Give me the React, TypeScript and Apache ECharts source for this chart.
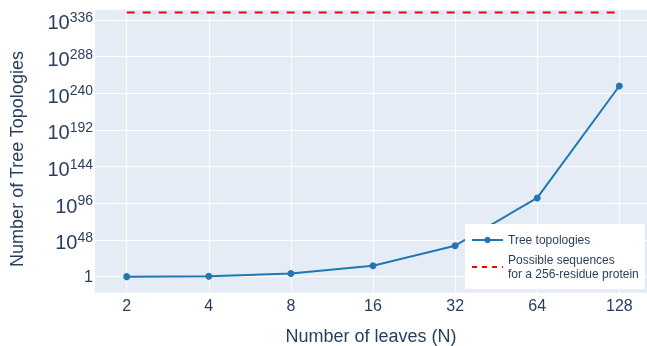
import React, { useEffect, useRef } from "react";
import * as echarts from "echarts";

// x: log2(N) positions, labels 2..128
const leafExp = [1, 2, 3, 4, 5, 6, 7];
const leafLabels = ["2", "4", "8", "16", "32", "64", "128"];
// y: log10(number of unrooted tree topologies)
const topologyLog10 = [0, 0.48, 4.02, 14.3, 40.5, 103, 249.5];
// log10 of possible sequences line
const sequencesLog10 = 345.6;
const yTicks = [0, 48, 96, 144, 192, 240, 288, 336];

const FONT = "'Liberation Sans', Arial, sans-serif";
const TXT = "#2a3f5f";
const SEQ_NAME = "Possible sequences\nfor a 256-residue protein";

export default function App() {
  const ref = useRef<HTMLDivElement>(null);
  useEffect(() => {
    const chart = echarts.init(ref.current!, null, { renderer: "svg" });
    chart.setOption({
      animation: false,
      textStyle: { fontFamily: FONT, color: TXT },
      grid: { left: 95, top: 10, right: 0, bottom: 53.3, show: true, backgroundColor: "#E5ECF6", borderWidth: 0 },
      xAxis: {
        type: "value",
        min: 0.614,
        max: 7.337,
        axisLine: { show: false },
        axisTick: { show: false, customValues: leafExp },
        splitLine: { show: true, lineStyle: { color: "#ffffff", width: 1 } },
        axisLabel: {
          customValues: leafExp,
          formatter: (v: number) => leafLabels[leafExp.indexOf(Math.round(v))] ?? "",
          fontSize: 16,
          color: TXT,
          fontFamily: FONT,
          margin: 5,
        },
      },
      yAxis: {
        type: "value",
        min: -21,
        max: 349,
        axisLine: { show: false },
        axisTick: { show: false, customValues: yTicks },
        splitLine: { show: true, lineStyle: { color: "#ffffff", width: 1 } },
        axisLabel: {
          customValues: yTicks,
          margin: 2,
          formatter: (v: number) => (v === 0 ? "{one|1}" : `{b|10}{s|${v}}`),
          rich: {
            one: { fontSize: 16, color: TXT, fontFamily: FONT, lineHeight: 20 },
            b: { fontSize: 20, color: TXT, fontFamily: FONT, lineHeight: 22, padding: [5, 0, 0, 0] },
            s: { fontSize: 14, color: TXT, fontFamily: FONT, lineHeight: 14, verticalAlign: "top", padding: [1, 0, 0, 0] },
          },
        },
      },
      legend: {
        left: 465,
        top: 224,
        orient: "vertical",
        backgroundColor: "#ffffff",
        padding: [9, 6, 8, 6],
        itemGap: 6,
        itemWidth: 31,
        itemHeight: 8,
        textStyle: { fontSize: 12, color: TXT, fontFamily: FONT, lineHeight: 14 },
        data: [
          { name: "Tree topologies" },
          { name: SEQ_NAME, itemStyle: { opacity: 0 }, lineStyle: { type: [5, 5], width: 2 } },
        ],
      },
      series: [
        {
          name: "Tree topologies",
          type: "line",
          data: leafExp.map((x, i) => [x, topologyLog10[i]]),
          symbol: "circle",
          symbolSize: 7,
          lineStyle: { color: "#1f77b4", width: 2 },
          itemStyle: { color: "#1f77b4" },
          z: 3,
        },
        {
          name: SEQ_NAME,
          type: "line",
          data: [
            [leafExp[0], sequencesLog10],
            [leafExp[leafExp.length - 1], sequencesLog10],
          ],
          symbol: "none",
          lineStyle: { color: "#ff0000", width: 2, type: [8, 8] },
          itemStyle: { color: "#ff0000" },
          z: 3,
        },
      ],
      graphic: [
        {
          type: "text",
          x: 371,
          y: 336,
          style: { text: "Number of leaves (N)", fontSize: 18, fill: TXT, fontFamily: FONT, align: "center", verticalAlign: "middle" },
        },
        {
          type: "text",
          x: 17,
          y: 159,
          rotation: Math.PI / 2,
          style: { text: "Number of Tree Topologies", fontSize: 18, fill: TXT, fontFamily: FONT, align: "center", verticalAlign: "middle" },
        },
      ],
    });
    return () => chart.dispose();
  }, []);
  return <div ref={ref} style={{ position: "fixed", left: 0, top: 0, width: 647, height: 346 }} />;
}
